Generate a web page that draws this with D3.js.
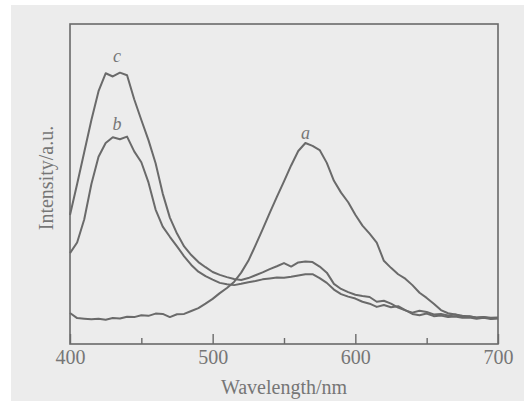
<!DOCTYPE html>
<html>
<head>
<meta charset="utf-8">
<script src="https://cdn.jsdelivr.net/npm/d3@7/dist/d3.min.js"></script>
<style>
  html, body { margin: 0; padding: 0; background: #ffffff; }
  svg { display: block; }
</style>
</head>
<body>
<svg id="chart" width="524" height="402"></svg>
<script>
// ---- data ----
const wavelengths = d3.range(400, 701, 5);

const seriesA = [
  9.7, 8.1, 7.9, 7.7, 7.9, 7.6, 8.1, 8.0, 8.5, 8.4,
  9.0, 8.8, 9.5, 9.4, 8.4, 9.3, 9.4, 10.3, 11.2, 12.6,
  14.1, 15.9, 17.5, 19.4, 22.3, 26.0, 30.8, 35.8, 41.0, 46.0,
  50.8, 55.8, 60.3, 62.8, 61.9, 60.6, 56.6, 51.0, 47.3, 44.3,
  40.4, 37.0, 34.5, 31.7, 26.0, 23.8, 21.8, 20.4, 18.4, 16.0,
  14.4, 12.6, 10.6, 9.6, 9.2, 8.8, 8.6, 8.3, 8.4, 8.2, 8.3
];

const seriesB = [
  28.4, 31.7, 39.0, 50.0, 58.5, 62.8, 64.6, 64.0, 64.8, 60.2,
  56.8, 50.5, 42.0, 36.7, 33.5, 30.5, 27.4, 24.7, 22.6, 21.2,
  20.1, 19.1, 18.7, 18.4, 18.8, 19.3, 19.7, 20.2, 20.5, 20.8,
  20.7, 21.0, 21.4, 21.8, 21.8, 20.6, 19.1, 17.0, 15.6, 14.8,
  14.2, 13.2, 12.6, 11.6, 12.2, 11.5, 11.8, 10.6, 9.4, 9.0,
  9.5, 8.7, 8.9, 8.4, 8.6, 8.2, 8.3, 7.9, 8.2, 7.8, 8.0
];

const seriesC = [
  40.3, 50.0, 60.0, 70.0, 79.0, 84.6, 83.6, 84.8, 84.0, 76.5,
  70.0, 63.7, 56.5, 47.0, 39.5, 34.5, 30.5, 27.8, 25.6, 24.0,
  22.5, 21.6, 20.9, 20.3, 20.0, 20.6, 21.5, 22.4, 23.4, 24.3,
  25.3, 24.2, 25.5, 25.8, 25.6, 24.2, 22.3, 18.8, 17.2, 16.2,
  15.4, 15.0, 14.7, 13.2, 13.5, 12.6, 11.4, 10.5, 9.8, 10.4,
  10.0, 9.2, 9.4, 8.9, 9.2, 8.5, 8.7, 8.2, 8.4, 8.0, 8.1
];

const seriesNames = ["a", "b", "c"];
const seriesValues = [seriesA, seriesB, seriesC];
const labelPositions = [[565, 64], [433, 67], [433, 88]]; // [wavelength, intensity] of label anchor
const majorTicks = [400, 500, 600, 700];
const minorTicks = [450, 550, 650];
const xTitle = "Wavelength/nm";
const yTitle = "Intensity/a.u.";

// ---- layout ----
const svg = d3.select("#chart");
const W = 524, H = 402;
const plot = { left: 70, right: 498, top: 24, bottom: 344 };
const ink = "#6a6a6a";
const textInk = "#767676";

svg.append("rect")
  .attr("x", 11).attr("y", 5)
  .attr("width", W - 11).attr("height", 396)
  .attr("fill", "#ececec");

const x = d3.scaleLinear().domain([400, 700]).range([plot.left, plot.right]);
const y = d3.scaleLinear().domain([0, 100]).range([plot.bottom, plot.top]);

// frame
svg.append("rect")
  .attr("x", plot.left).attr("y", plot.top)
  .attr("width", plot.right - plot.left)
  .attr("height", plot.bottom - plot.top)
  .attr("fill", "none")
  .attr("stroke", ink)
  .attr("stroke-width", 1.6);

// major ticks + labels
const axMajor = svg.append("g")
  .attr("transform", `translate(0,${plot.bottom})`)
  .call(d3.axisBottom(x).tickValues(majorTicks).tickSize(-10).tickPadding(6).tickFormat(d3.format("d")));
axMajor.select(".domain").remove();
axMajor.selectAll("line").attr("stroke", ink).attr("stroke-width", 1.4);
axMajor.selectAll("text")
  .attr("fill", textInk)
  .style("font-family", "'Liberation Serif', 'DejaVu Serif', serif")
  .style("font-size", "20px");

// minor ticks
const axMinor = svg.append("g")
  .attr("transform", `translate(0,${plot.bottom})`)
  .call(d3.axisBottom(x).tickValues(minorTicks).tickSize(-6).tickFormat(""));
axMinor.select(".domain").remove();
axMinor.selectAll("line").attr("stroke", ink).attr("stroke-width", 1.4);

// axis titles
svg.append("text")
  .attr("x", (plot.left + plot.right) / 2)
  .attr("y", 394)
  .attr("text-anchor", "middle")
  .attr("fill", textInk)
  .style("font-family", "'Liberation Serif', 'DejaVu Serif', serif")
  .style("font-size", "20px")
  .text(xTitle);

svg.append("text")
  .attr("transform", `translate(53,178) rotate(-90)`)
  .attr("text-anchor", "middle")
  .attr("fill", textInk)
  .style("font-family", "'Liberation Serif', 'DejaVu Serif', serif")
  .style("font-size", "20px")
  .text(yTitle);

// curves
const line = d3.line()
  .x((d, i) => x(wavelengths[i]))
  .y(d => y(d));

svg.append("g").selectAll("path")
  .data(seriesValues)
  .join("path")
  .attr("d", line)
  .attr("fill", "none")
  .attr("stroke", ink)
  .attr("stroke-width", 2)
  .attr("stroke-linejoin", "round");

// curve labels
svg.append("g").selectAll("text")
  .data(seriesNames)
  .join("text")
  .attr("x", (d, i) => x(labelPositions[i][0]))
  .attr("y", (d, i) => y(labelPositions[i][1]))
  .attr("text-anchor", "middle")
  .attr("fill", textInk)
  .style("font-family", "'Liberation Serif', 'DejaVu Serif', serif")
  .style("font-style", "italic")
  .style("font-size", "18px")
  .text(d => d);
</script>
</body>
</html>
